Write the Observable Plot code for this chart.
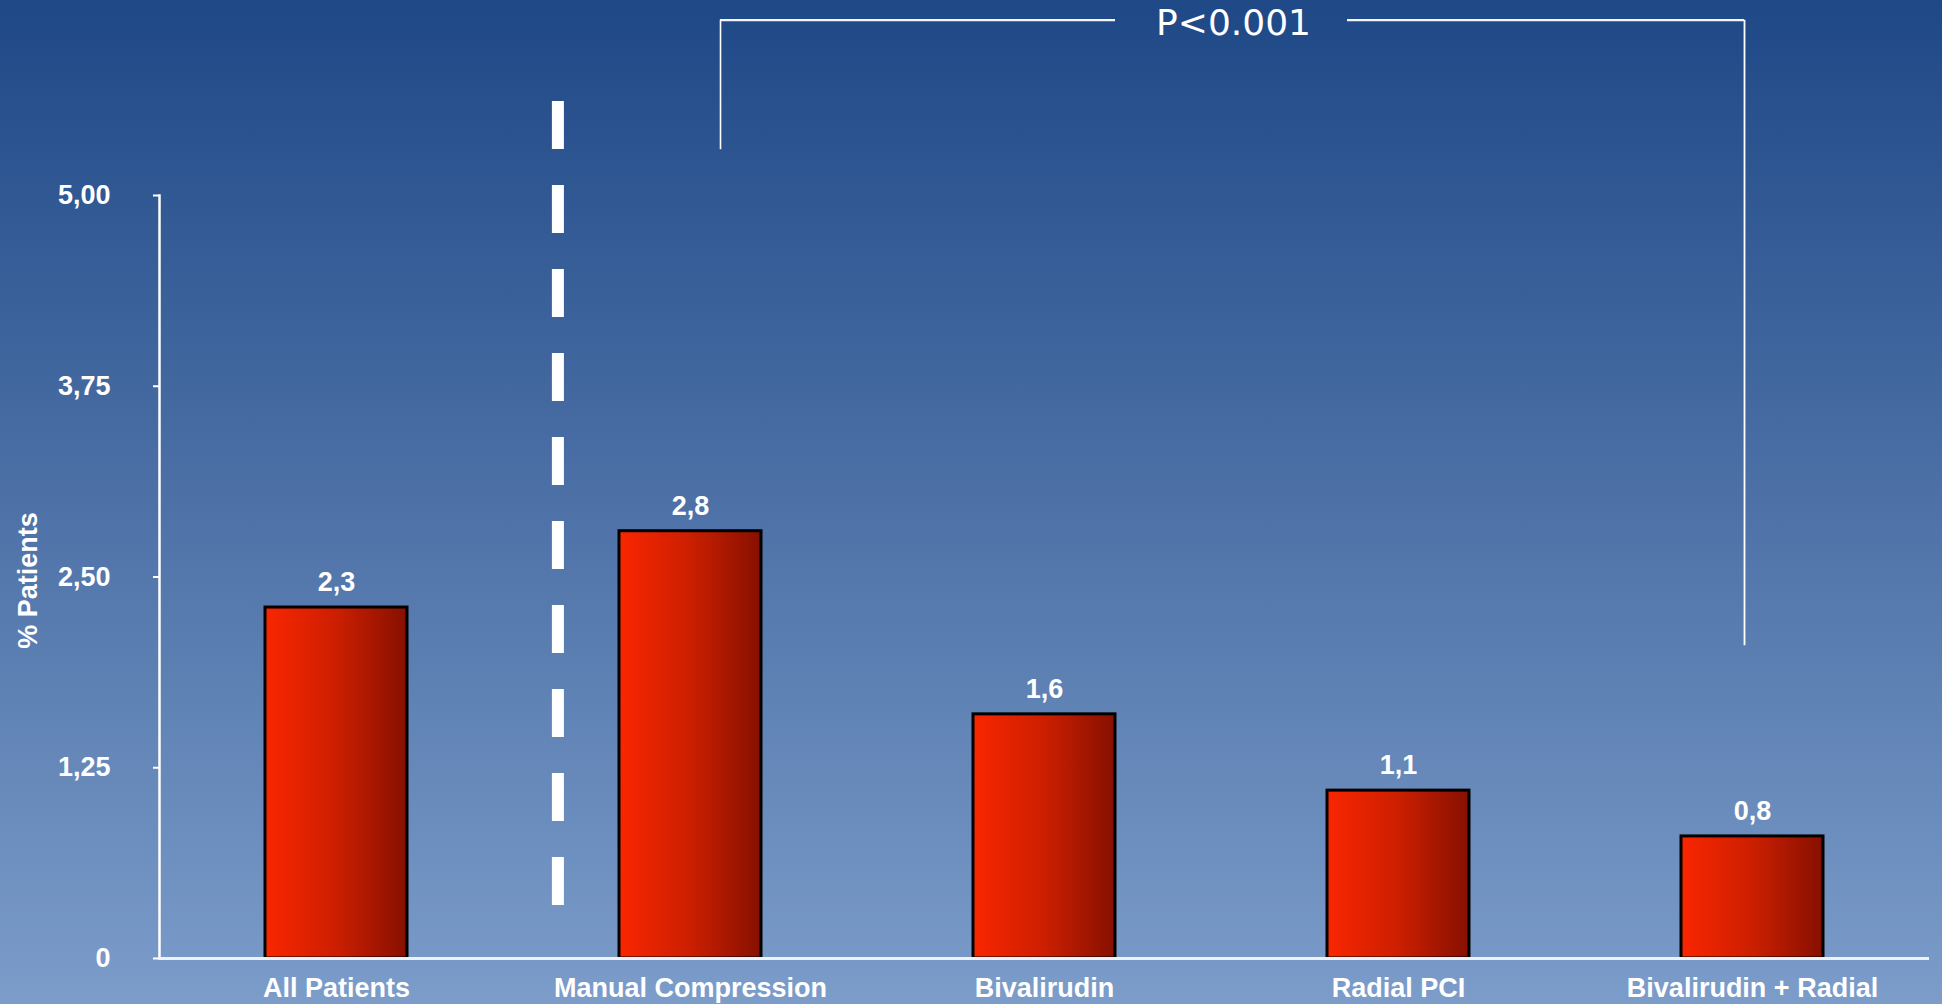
<!DOCTYPE html>
<html>
<head>
<meta charset="utf-8">
<script src="https://cdn.jsdelivr.net/npm/d3@7"></script>
<script src="https://cdn.jsdelivr.net/npm/@observablehq/plot@0.6"></script>
<style>
  html, body { margin: 0; padding: 0; overflow: hidden; }
  body { width: 1942px; height: 1004px; }
</style>
</head>
<body>
<div id="chart"></div>
<script>
// Bleeding rates by strategy (% of patients)
const categories = ["All Patients", "Manual Compression", "Bivalirudin", "Radial PCI", "Bivalirudin + Radial"];
const values = [2.3, 2.8, 1.6, 1.1, 0.8];
const valueLabels = ["2,3", "2,8", "1,6", "1,1", "0,8"];
const yTicks = [0, 1.25, 2.5, 3.75, 5];
const yTickLabels = ["0", "1,25", "2,50", "3,75", "5,00"];
const yTitle = "% Patients";
const pLabel = "P<0.001";

const rows = categories.map((category, i) => ({category, value: values[i], label: valueLabels[i]}));

const font = "'Liberation Sans', Arial, Helvetica, sans-serif";

const chart = Plot.plot({
  width: 1942,
  height: 1004,
  marginLeft: 159,
  marginRight: 13,
  marginTop: 195,
  marginBottom: 46,
  style: {
    fontFamily: font,
    background: "linear-gradient(to bottom, #1e4886 0%, #4d71a7 50%, #7c9dca 100%)",
    overflow: "visible"
  },
  x: {domain: categories, paddingInner: 0.6, paddingOuter: 0.295},
  y: {domain: [0, 5]},
  marks: [
    // vertical separator between the overall group and the subgroups
    Plot.ruleX(["Manual Compression"], {
      y1: 5.616, y2: 0.347, dx: -132.6,
      stroke: "white", strokeWidth: 12, strokeDasharray: "48 36"
    }),
    // significance bracket
    Plot.ruleX(["Manual Compression"], {y1: 6.149, y2: 5.30, dx: 30, stroke: "white", strokeWidth: 1.6}),
    Plot.ruleX(["Bivalirudin + Radial"], {y1: 6.149, y2: 2.05, dx: -8, stroke: "white", strokeWidth: 1.8}),
    Plot.ruleY([6.149], {x1: () => "Manual Compression", x2: () => "Bivalirudin", insetLeft: 101, stroke: "#f3f6fb", strokeWidth: 2.2}),
    Plot.ruleY([6.149], {x1: () => "Radial PCI", x2: () => "Bivalirudin + Radial", insetLeft: 20, insetRight: 79, stroke: "#f3f6fb", strokeWidth: 2.2}),
    Plot.text([pLabel], {
      x: () => "Bivalirudin", y: 6.149, dx: 189, dy: 3, text: d => d,
      fill: "white", fontSize: 36, fontFamily: "'DejaVu Sans', sans-serif", fontWeight: "normal"
    }),
    // bars
    Plot.barY(rows, {
      x: "category", y: "value",
      fill: "url(#barGradient)", stroke: "black", strokeWidth: 3,
      ariaLabel: "bars"
    }),
    // value labels
    Plot.text(rows, {
      x: "category", y: "value", text: "label", dy: -25,
      fill: "white", fontSize: 27, fontWeight: "bold",
      ariaLabel: "values"
    }),
    // axes
    Plot.frame({anchor: "left", stroke: "white", strokeWidth: 2.5}),
    Plot.ruleY([0], {stroke: "#eef2f8", strokeWidth: 3}),
    Plot.axisY({
      ticks: yTicks,
      tickFormat: d => yTickLabels[yTicks.indexOf(d)],
      tickSize: 6, tickPadding: 43, strokeWidth: 2,
      color: "white", fontSize: 27, fontWeight: "bold", label: null
    }),
    Plot.axisX({
      tickSize: 0, tickPadding: 19,
      color: "white", fontSize: 27, fontWeight: "bold", label: null
    }),
    Plot.text([yTitle], {
      frameAnchor: "left", textAnchor: "middle", rotate: -90, dx: -131.5, dy: 3.5, text: d => d,
      fill: "white", fontSize: 27, fontWeight: "bold"
    })
  ]
});

// horizontal red-to-dark-red fill used by the bars
const defs = d3.select(chart).insert("defs", ":first-child");
const grad = defs.append("linearGradient")
  .attr("id", "barGradient")
  .attr("x1", "0").attr("y1", "0").attr("x2", "1").attr("y2", "0");
grad.append("stop").attr("offset", "0%").attr("stop-color", "#fa2600");
grad.append("stop").attr("offset", "50%").attr("stop-color", "#cc1f00");
grad.append("stop").attr("offset", "100%").attr("stop-color", "#861000");

d3.select(chart).selectAll('g[aria-label="bars"]')
  .style("filter", "drop-shadow(2px 3px 5px rgba(10, 20, 50, 0.55))");
d3.select(chart).selectAll('g[aria-label="values"]')
  .style("filter", "drop-shadow(1px 2px 2px rgba(10, 20, 50, 0.55))");

document.getElementById("chart").appendChild(chart);
</script>
</body>
</html>
